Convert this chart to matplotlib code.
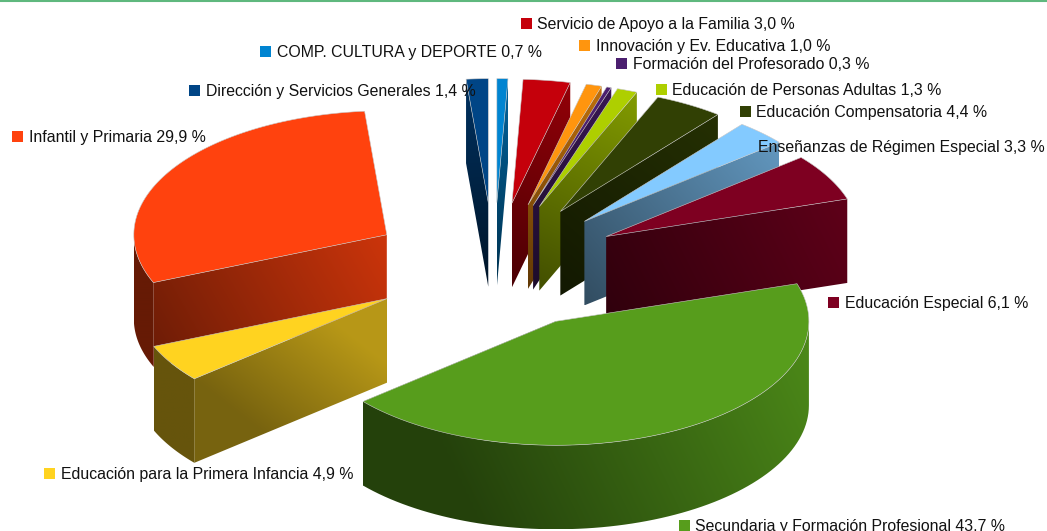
#!/usr/bin/env python
# exploded 3D pie drawn by hand, matplotlib has no real extruded pie
import numpy as np
import matplotlib
matplotlib.use('Agg')
import matplotlib.pyplot as plt
from matplotlib.colors import to_rgb
from matplotlib.patches import Polygon, Rectangle

plt.rcParams['font.family'] = ['Liberation Sans', 'DejaVu Sans']

# clockwise from 12 o'clock
names = ['COMP. CULTURA y DEPORTE', 'Servicio de Apoyo a la Familia',
         'Innovación y Ev. Educativa', 'Formación del Profesorado',
         'Educación de Personas Adultas', 'Educación Compensatoria',
         'Enseñanzas de Régimen Especial', 'Educación Especial',
         'Secundaria y Formación Profesional', 'Educación para la Primera Infancia',
         'Infantil y Primaria', 'Dirección y Servicios Generales']
values = [0.7, 3.0, 1.0, 0.3, 1.3, 4.4, 3.3, 6.1, 43.7, 4.9, 29.9, 1.4]
colors = ['#0084D1', '#C5000B', '#FF950E', '#4B1F6F', '#AECF00', '#314004',
          '#83CAFF', '#7E0021', '#579D1C', '#FFD320', '#FF420E', '#004586']
explode = [0.515, 0.515, 0.515, 0.515, 0.515, 0.515,
           0.51, 0.505, 0.505, 0.495, 0.495, 0.515]

# layout in pixels of the label square and the text start
label_sq_x = [260, 521, 579, 616, 656, 740, 741, 828, 679, 44, 12, 189]
label_tx_x = [277, 537, 596, 633, 672, 756, 758, 845, 695, 61, 29, 206]
label_y = [51, 23, 45, 63, 89, 111, 146, 302, 525, 473, 136, 90]

cx, cy = 494, 266.5
rx, ry = 253, 124
depth = 84
fontsz = 11.45


def pt(ang, r=1.0):
    return np.array([r*rx*np.sin(ang), -r*ry*np.cos(ang)])


def shade(col, f):
    return np.array(to_rgb(col))*f


def grad_face(ax, verts, c0, c1, p0, p1, z):
    # linear gradient from p0 to p1 clipped to the polygon
    verts = np.array(verts)
    x0, y0 = verts.min(axis=0)
    x1, y1 = verts.max(axis=0)
    xx, yy = np.meshgrid(np.linspace(x0, x1, 120), np.linspace(y0, y1, 120))
    d = np.array(p1)-np.array(p0)
    t = ((xx-p0[0])*d[0]+(yy-p0[1])*d[1])/(d @ d)
    t = np.clip(t, 0, 1)[..., None]
    img = c0*(1-t)+c1*t
    im = ax.imshow(img, extent=(x0, x1, y1, y0), aspect='auto', zorder=z, interpolation='bilinear')
    clip = Polygon(verts, closed=True, transform=ax.transData, fc='none', ec='none')
    ax.add_patch(clip)
    im.set_clip_path(clip)


fig = plt.figure(figsize=(10.47, 5.31), dpi=100)
ax = fig.add_axes([0, 0, 1, 1])

fracs = np.array(values)/sum(values)
edges = np.concatenate(([0], np.cumsum(fracs)))*2*np.pi
mids = (edges[:-1]+edges[1:])/2

# back to front
order = np.argsort(-np.cos(mids))
z = 2
for i in order:
    a0, a1 = edges[i], edges[i+1]
    apex = np.array([cx, cy])+pt(mids[i], explode[i])
    col = colors[i]
    arc = np.linspace(a0, a1, 80)
    outer = np.array([apex+pt(a) for a in arc])
    down = np.array([0, depth])

    # radial wall facing the viewer
    if a1 <= np.pi or (a0 < np.pi/2):
        e = apex+pt(a1)
        wall = [apex, e, e+down, apex+down]
        grad_face(ax, wall, shade(col, 0.38), shade(col, 0.75), apex+down, e, z)
        z += 1
    if a0 >= np.pi:
        e = apex+pt(a0)
        wall = [e, apex, apex+down, e+down]
        if mids[i] > 1.7*np.pi:
            grad_face(ax, wall, shade(col, 0.72), shade(col, 0.3), e, apex+down, z)
        elif mids[i] < 1.5*np.pi:
            # the small wedge low on the left fades mostly from top to bottom
            m = (apex+e)/2
            grad_face(ax, wall, shade(col, 0.47), shade(col, 0.72),
                      m+down+[-40, 0], m+[40, -20], z)
        else:
            grad_face(ax, wall, shade(col, 0.42), shade(col, 0.8), e+down, apex, z)
        z += 1

    # outer rim, only the front half is seen
    lo, hi = max(a0, np.pi/2), min(a1, 1.5*np.pi)
    if hi > lo:
        rim_arc = np.linspace(lo, hi, 80)
        rim_top = np.array([apex+pt(a) for a in rim_arc])
        rim = np.vstack([rim_top, rim_top[::-1]+down])
        if hi-lo > 1:
            grad_face(ax, rim, shade(col, 0.42), shade(col, 0.88),
                      rim_top[-1]+down+[100, 0], rim_top[0], z)
        else:
            c = shade(col, 0.4)
            grad_face(ax, rim, c, c, rim_top[0], rim_top[-1]+[1, 1], z)
        z += 1

    top = np.vstack([apex, outer])
    ax.add_patch(Polygon(top, closed=True, fc=col, ec='#c8c8c8', lw=0.4, zorder=z))
    z += 1

# labels
for i in range(len(names)):
    ax.add_patch(Rectangle((label_sq_x[i], label_y[i]-5), 10.5, 10.5, fc=colors[i], ec='none', zorder=100))
    lab = f'{names[i]} {values[i]:.1f} %'.replace('.', ',').replace('COMP, ', 'COMP. ').replace('Ev, ', 'Ev. ')
    ax.text(label_tx_x[i], label_y[i]+1.5, lab, fontsize=fontsz, va='center', ha='left', color='#111111', zorder=101)

ax.axhline(0.5, color='#5fb87e', lw=1.5, zorder=102)
ax.set_xlim(0, 1047)
ax.set_ylim(531, 0)
ax.axis('off')
fig.savefig('out.png', dpi=100)
